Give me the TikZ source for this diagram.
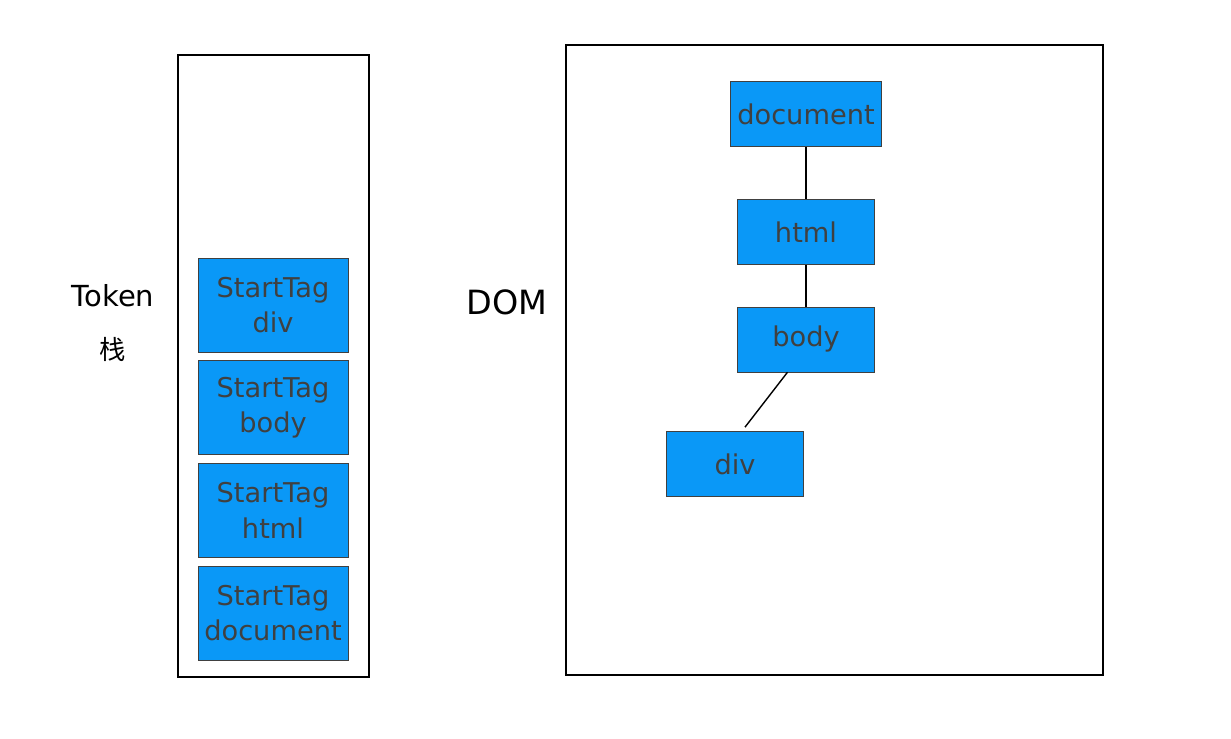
\documentclass[tikz,border=0pt]{standalone}
\usepackage{fontspec}
\setmainfont{DejaVu Sans}
\newfontfamily\cjkfont{Noto Sans CJK SC}
\usetikzlibrary{positioning}
\definecolor{nodeblue}{HTML}{0A98F7}
\definecolor{textgray}{HTML}{404040}

\begin{document}
\begin{tikzpicture}[
  x=0.02cm, y=-0.02cm,
  every node/.style={font=\fontsize{15.5}{20}\selectfont},
  frame/.style = {draw, line width=1.6pt},
  link/.style = {draw, line width=0.8pt},
  stackbox/.style = {draw=black!75, fill=nodeblue, text=textgray, minimum width=3cm, minimum height=1.88cm, align=center, inner sep=0pt},
  domnode/.style = {draw=black!75, fill=nodeblue, text=textgray, minimum width=2.74cm, minimum height=1.3cm, inner sep=0pt}
  ]
  \useasboundingbox (0,0) rectangle (1231,738);

	% token stack
	\draw[frame] (178,55) rectangle (369,677);
	\node[font=\fontsize{16.5}{20}\selectfont] (token) at (113,296) {Token};
	\node[font=\cjkfont\fontsize{15}{17}\selectfont] (zhan) at (113,349) {栈};

	\node[stackbox] (sdiv) at (273,305) {StartTag\\div};
	\node[stackbox, below=0.16cm of sdiv] (sbody) {StartTag\\body};
	\node[stackbox, below=0.16cm of sbody] (shtml) {StartTag\\html};
	\node[stackbox, below=0.16cm of shtml] (sdoc) {StartTag\\document};

	% dom tree
	\draw[frame] (566,45) rectangle (1103,675);
	\node[font=\fontsize{19}{22}\selectfont] (dom) at (507,302) {DOM};

	\node[domnode, minimum width=3.02cm] (ddoc) at (806,114) {document};
	\node[domnode, below=1.04cm of ddoc] (dhtml) {html};
	\node[domnode, below=0.84cm of dhtml] (dbody) {body};
	\node[domnode] (ddiv) at (735,464) {div};

	\draw[link] (ddoc) -- (dhtml);
	\draw[link] (dhtml) -- (dbody);
	\draw[link] ([xshift=-0.37cm]dbody.south) -- ([xshift=0.2cm,yshift=0.08cm]ddiv.north);

\end{tikzpicture}
\end{document}
